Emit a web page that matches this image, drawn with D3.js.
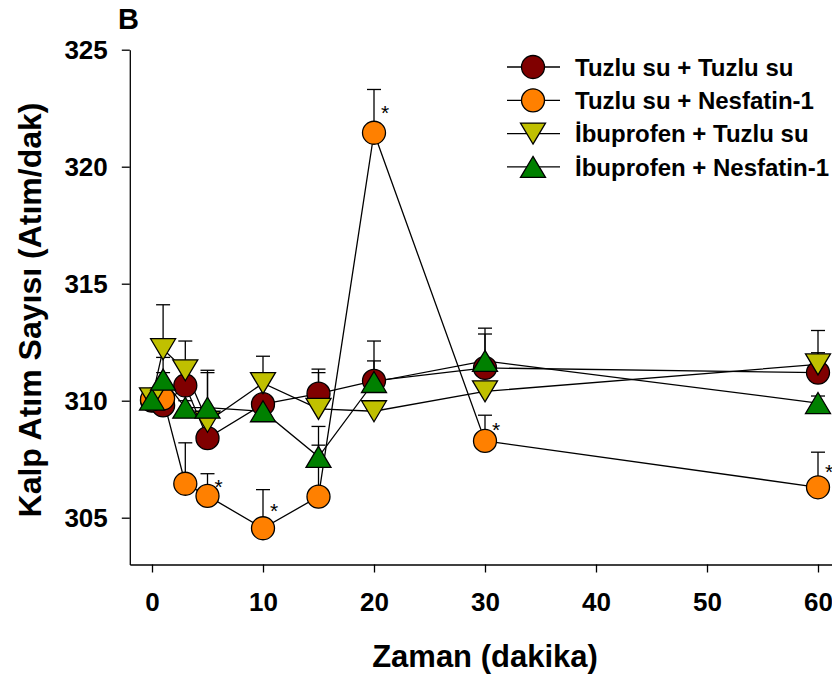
<!DOCTYPE html>
<html><head><meta charset="utf-8">
<script src="https://cdn.jsdelivr.net/npm/d3@7"></script>
<style>
body{margin:0;background:#fff;}
svg{display:block;font-family:"Liberation Sans",Arial,sans-serif;}
</style></head>
<body>
<svg id="c" width="832" height="677"></svg>
<script>
const times = [0, 1, 3, 5, 10, 15, 20, 30, 60];
const seriesNames = ["Tuzlu su + Tuzlu su", "Tuzlu su + Nesfatin-1", "İbuprofen + Tuzlu su", "İbuprofen + Nesfatin-1"];
const salineSaline = [310.0, 309.8, 310.65, 308.4, 309.85, 310.3, 310.85, 311.4, 311.2];
const salineSalineSE = [0.2, 1.4, 1.0, 2.9, 1.35, 1.05, 0.85, 1.45, 1.8];
const salineNesfatin = [310.05, 310.1, 306.45, 305.93, 304.55, 305.9, 321.45, 308.28, 306.3];
const salineNesfatinSE = [0.2, 0.3, 1.75, 0.95, 1.65, 3.0, 1.85, 1.1, 1.5];
const ibuSaline = [310.1, 312.2, 311.3, 309.1, 310.75, 309.65, 309.55, 310.4, 311.55];
const ibuSalineSE = [0.2, 1.9, 1.25, 0.3, 1.15, 1.55, 0.3, 0.3, 0.5];
const ibuNesfatin = [310.05, 310.9, 309.7, 309.7, 309.55, 307.6, 310.8, 311.7, 309.9];
const ibuNesfatinSE = [0.2, 0.95, 0.3, 1.5, 0.3, 0.5, 1.75, 1.4, 0.3];
const nesfatinStars = [false, false, false, true, true, false, true, true, true];
const xTicks = [0, 10, 20, 30, 40, 50, 60];
const yTicks = [305, 310, 315, 320, 325];
const panelLabel = "B";
const xTitle = "Zaman (dakika)";
const yTitle = "Kalp Atım Sayısı (Atım/dak)";

const series = [
  {name: seriesNames[0], vals: salineSaline, se: salineSalineSE, shape: "circle", color: "#800000"},
  {name: seriesNames[1], vals: salineNesfatin, se: salineNesfatinSE, shape: "circle", color: "#FF8000", stars: nesfatinStars},
  {name: seriesNames[2], vals: ibuSaline, se: ibuSalineSE, shape: "down", color: "#C0C000"},
  {name: seriesNames[3], vals: ibuNesfatin, se: ibuNesfatinSE, shape: "up", color: "#008000"}
];

const svg = d3.select("#c");
const x = d3.scaleLinear().domain([-2, 62]).range([129.8, 840.2]);
const y = d3.scaleLinear().domain([303, 325]).range([564.5, 49.7]);

// axes
const gx = svg.append("g").attr("transform", `translate(0,${y(303)})`)
  .call(d3.axisBottom(x).tickValues(xTicks).tickSize(8).tickSizeOuter(0).tickPadding(20));
const gy = svg.append("g").attr("transform", `translate(${x(-2)},0)`)
  .call(d3.axisLeft(y).tickValues(yTicks).tickSize(8).tickSizeOuter(0).tickPadding(14));
[gx, gy].forEach(g => {
  g.selectAll("path,line").attr("stroke", "#000").attr("stroke-width", 1.3);
  g.selectAll("text").attr("fill", "#000").attr("font-size", 26).attr("font-weight", "bold")
    .attr("font-family", "Liberation Sans, Arial, sans-serif");
});
gx.selectAll("text").attr("dy", "0.71em");

// titles
svg.append("text").attr("x", 118).attr("y", 29).attr("font-size", 29).attr("font-weight", "bold").text(panelLabel);
svg.append("text").attr("x", x(30)).attr("y", 667).attr("text-anchor", "middle")
  .attr("font-size", 31).attr("font-weight", "bold").text(xTitle);
svg.append("text").attr("transform", `translate(41,310) rotate(-90)`).attr("text-anchor", "middle")
  .attr("font-size", 32).attr("font-weight", "bold").text(yTitle);

function markerPath(shape) {
  if (shape === "up") return "M0,-10.5L12.5,10.5L-12.5,10.5Z";
  if (shape === "down") return "M0,10.5L12.5,-10.5L-12.5,-10.5Z";
  return null;
}
function drawMarker(g, s, cx, cy) {
  if (s.shape === "circle") {
    g.append("circle").attr("cx", cx).attr("cy", cy).attr("r", 11.5)
      .attr("fill", s.color).attr("stroke", "#000").attr("stroke-width", 1.3);
  } else {
    g.append("path").attr("d", markerPath(s.shape)).attr("transform", `translate(${cx},${cy})`)
      .attr("fill", s.color).attr("stroke", "#000").attr("stroke-width", 1.3);
  }
}

const plot = svg.append("g");
const line = d3.line().x(d => x(d[0])).y(d => y(d[1]));
// lines
series.forEach(s => {
  plot.append("path").attr("d", line(times.map((t, i) => [t, s.vals[i]])))
    .attr("fill", "none").attr("stroke", "#000").attr("stroke-width", 1.3);
});
// error bars
series.forEach(s => {
  times.forEach((t, i) => {
    const cx = x(t), cy = y(s.vals[i]), cap = y(s.vals[i] + s.se[i]);
    plot.append("line").attr("x1", cx).attr("x2", cx).attr("y1", cy).attr("y2", cap)
      .attr("stroke", "#000").attr("stroke-width", 1.3);
    plot.append("line").attr("x1", cx - 7).attr("x2", cx + 7).attr("y1", cap).attr("y2", cap)
      .attr("stroke", "#000").attr("stroke-width", 1.3);
  });
});
// markers
series.forEach(s => {
  times.forEach((t, i) => drawMarker(plot, s, x(t), y(s.vals[i])));
});
// significance stars
series.forEach(s => {
  if (!s.stars) return;
  times.forEach((t, i) => {
    if (!s.stars[i]) return;
    const mid = (y(s.vals[i]) + y(s.vals[i] + s.se[i])) / 2 - 3;
    plot.append("text").attr("x", x(t) + 11).attr("y", mid + 12).attr("text-anchor", "middle")
      .attr("font-size", 21).text("*");
  });
});

// legend
const lg = svg.append("g");
series.forEach((s, i) => {
  const ly = 67 + i * 33.3;
  lg.append("line").attr("x1", 507).attr("x2", 560).attr("y1", ly).attr("y2", ly)
    .attr("stroke", "#000").attr("stroke-width", 1.3);
  drawMarker(lg, s, 533, ly);
  lg.append("text").attr("x", 575).attr("y", ly).attr("dy", "0.36em")
    .attr("font-size", 24).attr("font-weight", "bold").text(s.name);
});
</script>
</body></html>
